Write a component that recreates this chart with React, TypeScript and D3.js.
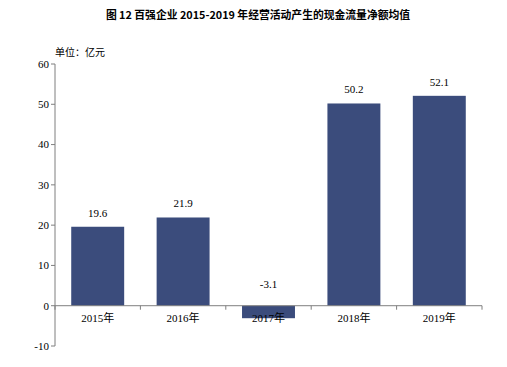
import * as d3 from "d3"

const years = ["2015年", "2016年", "2017年", "2018年", "2019年"]
const values = [19.6, 21.9, -3.1, 50.2, 52.1]
const yTicks = [-10, 0, 10, 20, 30, 40, 50, 60]

const WIDTH = 507
const HEIGHT = 367
const LEFT = 55
const RIGHT = 482
const BAR_COLOR = "#3b4c7c"
const AXIS_COLOR = "#7f7f7f"
const SERIF = "'Liberation Serif', 'Noto Sans CJK SC', serif"

export default function App() {
  const x = d3.scaleBand<string>().domain(years).range([LEFT, RIGHT]).paddingInner(0.38).paddingOuter(0.19)
  const y = d3.scaleLinear().domain([-10, 60]).range([346, 64])
  const step = (RIGHT - LEFT) / years.length

  return (
    <svg
      width={WIDTH}
      height={HEIGHT}
      style={{ position: "absolute", left: 0, top: 0, background: "#fff" }}
    >
      <text
        x={258}
        y={19}
        textAnchor="middle"
        fontSize={10.8}
        fontWeight={700}
        fontFamily="'Noto Sans CJK SC', sans-serif"
      >
        图 12 百强企业 2015-2019 年经营活动产生的现金流量净额均值
      </text>
      <text x={55} y={56} fontSize={10} fontFamily="'Noto Sans CJK SC', sans-serif">
        单位：亿元
      </text>

      {values.map((v, i) => {
        const top = y(Math.max(v, 0))
        const bottom = y(Math.min(v, 0))
        return (
          <rect
            key={years[i]}
            x={x(years[i])}
            y={top}
            width={x.bandwidth()}
            height={bottom - top}
            fill={BAR_COLOR}
          />
        )
      })}

      {/* y axis */}
      <line x1={LEFT} x2={LEFT} y1={y(60)} y2={y(-10)} stroke={AXIS_COLOR} />
      {yTicks.map((t) => (
        <g key={t} transform={`translate(0, ${y(t)})`}>
          <line x1={LEFT - 4} x2={LEFT} stroke={AXIS_COLOR} />
          <text
            x={LEFT - 6}
            dy="0.35em"
            textAnchor="end"
            fontSize={11}
            fontFamily={SERIF}
          >
            {t}
          </text>
        </g>
      ))}

      {/* x axis */}
      <line x1={LEFT} x2={RIGHT} y1={y(0)} y2={y(0)} stroke={AXIS_COLOR} />
      {d3.range(years.length + 1).map((i) => (
        <line
          key={i}
          x1={LEFT + i * step}
          x2={LEFT + i * step}
          y1={y(0)}
          y2={y(0) + 4}
          stroke={AXIS_COLOR}
        />
      ))}
      {years.map((yr) => (
        <text
          key={yr}
          x={(x(yr) ?? 0) + x.bandwidth() / 2}
          y={y(0) + 16}
          textAnchor="middle"
          fontSize={11}
          fontFamily={SERIF}
        >
          {yr}
        </text>
      ))}

      {/* value labels */}
      {values.map((v, i) => (
        <text
          key={years[i]}
          x={(x(years[i]) ?? 0) + x.bandwidth() / 2}
          y={v >= 0 ? y(v) - 10 : y(0) - 18}
          textAnchor="middle"
          fontSize={11}
          fontFamily={SERIF}
        >
          {v.toFixed(1)}
        </text>
      ))}
    </svg>
  )
}
